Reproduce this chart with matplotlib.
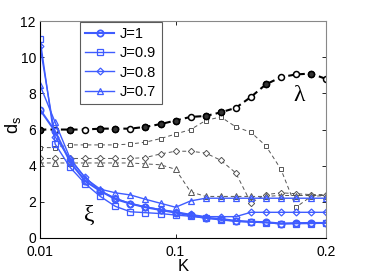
import matplotlib
matplotlib.use("Agg")
import matplotlib.pyplot as plt

plt.rcParams['font.family'] = ['Liberation Sans', 'DejaVu Sans']
plt.rcParams['mathtext.fontset'] = 'dejavusans'

# Data
K = [0.01, 0.02, 0.03, 0.04, 0.05, 0.06, 0.07, 0.08, 0.09, 0.10,
     0.11, 0.12, 0.13, 0.14, 0.15, 0.16, 0.17, 0.18, 0.19, 0.20]

# lambda curves (black / gray dashed)
lam_J1 = [6.0, 6.0, 6.0, 6.0, 6.05, 6.05, 6.05, 6.15, 6.3, 6.5,
          6.7, 6.75, 6.95, 7.2, 7.8, 8.5, 8.9, 9.05, 9.1, 8.8]
lam_J09 = [5.0, 5.0, 5.15, 5.15, 5.15, 5.15, 5.2, 5.3, 5.5, 5.75,
           6.0, 6.5, 6.7, 6.15, 5.85, 5.1, 3.8, 1.7, 2.3, 2.35]
lam_J08 = [4.4, 4.4, 4.4, 4.4, 4.4, 4.4, 4.4, 4.45, 4.65, 4.8,
           4.8, 4.7, 4.3, 3.6, 1.95, 2.4, 2.5, 2.45, 2.4, 2.4]
lam_J07 = [4.15, 4.15, 4.15, 4.15, 4.15, 4.15, 4.15, 4.1, 4.05, 3.8,
           2.55, 2.3, 2.3, 2.3, 2.3, 2.3, 2.35, 2.35, 2.35, 2.35]
lam_J1_filled = [0, 2, 4, 5, 7, 8, 9, 11, 12, 15, 18]

# xi curves (blue)
xi_J1 = [7.1, 5.9, 4.2, 3.15, 2.6, 2.15, 1.9, 1.7, 1.55, 1.4,
         1.25, 1.12, 1.05, 0.95, 0.9, 0.87, 0.8, 0.82, 0.83, 0.83]
xi_J09 = [11.0, 5.2, 3.9, 3.0, 2.3, 1.75, 1.45, 1.4, 1.35, 1.27,
          1.2, 1.1, 1.0, 0.92, 0.88, 0.85, 0.78, 0.8, 0.8, 0.82]
xi_J08 = [10.6, 5.6, 4.35, 3.35, 2.6, 2.2, 1.9, 1.72, 1.57, 1.45,
          1.3, 1.18, 1.18, 1.18, 1.42, 1.42, 1.42, 1.42, 1.42, 1.42]
xi_J07 = [8.45, 6.4, 4.4, 3.3, 2.7, 2.5, 2.38, 2.14, 1.92, 1.7,
          2.05, 2.2, 2.2, 2.2, 2.2, 2.2, 2.2, 2.2, 2.2, 2.2]

labels = ['J=1', 'J=0.9', 'J=0.8', 'J=0.7']
xticks = [0.01, 0.1, 0.2]
xticklabels = ['0.01', '0.1', '0.2']
yticks = [0, 2, 4, 6, 8, 10, 12]

blue = '#3f5cff'
gray = '#555555'

fig = plt.figure(figsize=(3.71, 2.78), dpi=100)
ax = fig.add_axes([0.108, 0.144, 0.771, 0.780])

# gray lambda curves
ax.plot(K, lam_J09, ls=(0, (4, 3)), color=gray, lw=0.7, marker='s', ms=3.5,
        mfc='white', mec=gray, mew=0.7)
ax.plot(K, lam_J08, ls=(0, (4, 3)), color=gray, lw=0.7, marker='D', ms=3.2,
        mfc='white', mec=gray, mew=0.7)
ax.plot(K, lam_J07, ls=(0, (4, 3)), color=gray, lw=0.7, marker='^', ms=4,
        mfc='white', mec=gray, mew=0.7)
# black lambda J=1
ax.plot(K, lam_J1, ls=(0, (3, 2)), color='black', lw=1.5, marker='o', ms=4.3,
        mfc='white', mec='black', mew=1.1)
ax.plot(K, lam_J1, ls='none', marker='o', ms=4.3, mfc='#333333', mec='black',
        mew=1.1, markevery=lam_J1_filled)

# blue xi curves
h1, = ax.plot(K, xi_J1, color=blue, lw=1.5, marker='o', ms=4.5, mfc='none',
              mec=blue, mew=1.3, label=labels[0])
h2, = ax.plot(K, xi_J09, color=blue, lw=1.0, marker='s', ms=4, mfc='none',
              mec=blue, mew=0.9, label=labels[1])
h3, = ax.plot(K, xi_J08, color=blue, lw=1.0, marker='D', ms=3.5, mfc='none',
              mec=blue, mew=0.9, label=labels[2])
h4, = ax.plot(K, xi_J07, color=blue, lw=1.0, marker='^', ms=4.5, mfc='none',
              mec=blue, mew=0.9, label=labels[3])

ax.set_xlim(0.01, 0.2)
ax.set_ylim(0, 12)
ax.set_xticks(xticks)
ax.set_xticklabels(xticklabels)
ax.set_yticks(yticks)
ax.tick_params(direction='in', length=3, width=0.6, labelsize=10,
               top=True, right=True, pad=3)
ax.tick_params(axis='x', pad=5)
for s in ['left', 'bottom']:
    ax.spines[s].set_color('black')
    ax.spines[s].set_linewidth(0.8)
for s in ['top', 'right']:
    ax.spines[s].set_color('#888888')
    ax.spines[s].set_linewidth(0.8)

ax.set_xlabel('K', fontsize=12, labelpad=0)
ax.set_ylabel('d$_\\mathregular{s}$', fontsize=13)
ax.yaxis.set_label_coords(-0.06, 0.52)

ax.text(0.182, 7.9, 'λ', fontsize=17, ha='center', va='center',
        family=['Liberation Serif', 'DejaVu Serif'])
ax.text(0.043, 1.25, 'ξ', fontsize=17, ha='center', va='center',
        family=['Liberation Serif', 'DejaVu Serif'])

leg = ax.legend(handles=[h1, h2, h3, h4], loc='upper left',
                bbox_to_anchor=(0.14, 0.995), fontsize=10.5, frameon=True,
                fancybox=False, edgecolor='#333333', handlelength=2.0,
                handletextpad=0.4, labelspacing=0.35, borderpad=0.35,
                borderaxespad=0)
leg.get_frame().set_linewidth(0.8)

fig.savefig('out.png', dpi=100)
